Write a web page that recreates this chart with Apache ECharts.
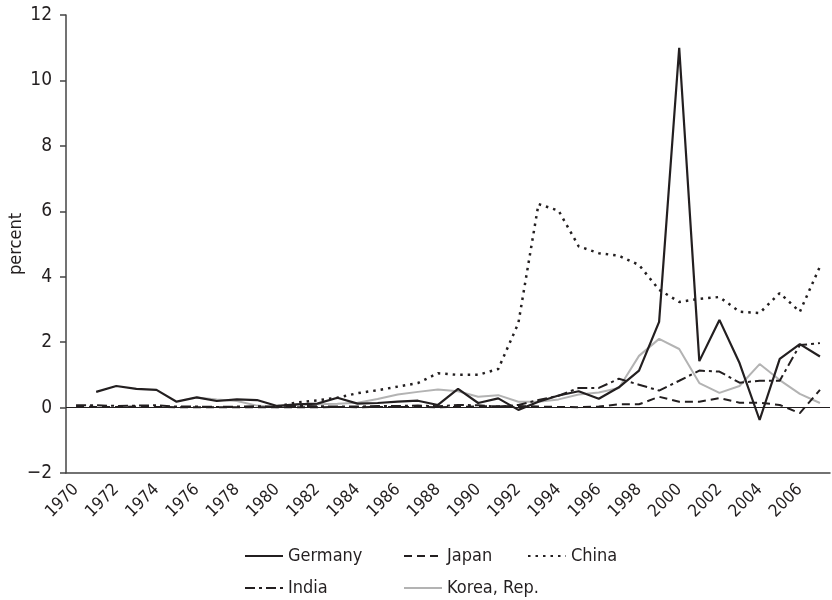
<!DOCTYPE html>
<html>
<head>
<meta charset="utf-8">
<script src="https://cdn.jsdelivr.net/npm/echarts@6/dist/echarts.min.js"></script>
<style>
  html, body { margin: 0; padding: 0; background: #fff; }
  #chart { width: 832px; height: 600px; }
</style>
</head>
<body>
<div id="chart"></div>
<script>
// years on the x axis
var years = [];
for (var y = 1970; y <= 2007; y++) years.push(String(y));

// percent values, 1970..2007 (null = no data)
var germany = [null, 0.48, 0.66, 0.57, 0.54, 0.18, 0.31, 0.20, 0.25, 0.23,
  0.05, 0.10, 0.12, 0.30, 0.12, 0.14, 0.18, 0.21, 0.08, 0.57,
  0.14, 0.28, -0.07, 0.18, 0.37, 0.50, 0.27, 0.62, 1.13, 2.62,
  11.0, 1.42, 2.68, 1.36, -0.38, 1.49, 1.94, 1.56];
var japan = [0.03, 0.02, 0.02, 0.03, 0.02, 0.01, 0.01, 0.01, 0.01, 0.01,
  0.01, 0.01, 0.01, 0.02, 0.01, 0.02, 0.02, 0.02, 0.01, 0.02,
  0.04, 0.04, 0.05, 0.03, 0.02, 0.01, 0.03, 0.10, 0.10, 0.33,
  0.18, 0.18, 0.29, 0.15, 0.15, 0.08, -0.17, 0.54];
var china = [null, null, null, null, null, null, null, null, null, null,
  0.03, 0.16, 0.22, 0.30, 0.44, 0.53, 0.64, 0.75, 1.05, 1.00,
  1.00, 1.18, 2.58, 6.22, 6.02, 4.93, 4.72, 4.64, 4.36, 3.60,
  3.23, 3.32, 3.38, 2.93, 2.89, 3.50, 2.93, 4.31];
var india = [0.07, 0.07, 0.05, 0.06, 0.07, 0.03, 0.03, 0.02, 0.03, 0.04,
  0.03, 0.05, 0.04, 0.03, 0.03, 0.05, 0.05, 0.06, 0.04, 0.08,
  0.07, 0.03, 0.08, 0.23, 0.36, 0.60, 0.60, 0.88, 0.70, 0.52,
  0.82, 1.13, 1.10, 0.76, 0.82, 0.82, 1.91, 1.97];
var korea = [null, null, null, null, null, null, 0.31, 0.25, 0.20, 0.06,
  0.01, 0.10, 0.10, 0.12, 0.15, 0.26, 0.40, 0.48, 0.55, 0.50,
  0.33, 0.38, 0.18, 0.18, 0.25, 0.40, 0.46, 0.60, 1.58, 2.10,
  1.79, 0.75, 0.45, 0.66, 1.33, 0.84, 0.42, 0.14];

var yTicks = { min: -2, max: 12, interval: 2 };

var font = "'DejaVu Sans Condensed', 'Liberation Sans Narrow', 'Roboto', sans-serif";
var ink = '#231f20';

function legendAt(name, left, top) {
  return {
    data: [name],
    left: left,
    top: top,
    itemWidth: 38,
    itemHeight: 10,
    itemStyle: { opacity: 0 },
    textStyle: { fontFamily: font, fontSize: 18, color: ink }
  };
}

var myChart = echarts.init(document.getElementById('chart'));
var option = {
  backgroundColor: '#fff',
  animation: false,
  grid: { left: 66, right: 2, top: 15, bottom: 127, outerBoundsMode: 'none', containLabel: false },
  legend: [
    legendAt('Germany', 239, 542),
    legendAt('Japan', 398, 542),
    legendAt('China', 522, 542),
    legendAt('India', 239, 574),
    legendAt('Korea, Rep.', 398, 574)
  ],
  xAxis: {
    type: 'category',
    data: years,
    boundaryGap: true,
    axisLine: { onZero: false, lineStyle: { color: '#444', width: 1.5 } },
    axisTick: { interval: 0, length: 6, lineStyle: { color: '#444', width: 1.5 } },
    axisLabel: {
      interval: 1, rotate: 45, margin: 14,
      fontFamily: font, fontSize: 17, color: ink
    },
    splitLine: { show: false }
  },
  yAxis: {
    type: 'value',
    min: yTicks.min,
    max: yTicks.max,
    interval: yTicks.interval,
    name: 'percent',
    nameLocation: 'middle',
    nameGap: 41,
    nameMoveOverlap: false,
    nameTextStyle: { fontFamily: font, fontSize: 18, color: ink },
    axisLine: { show: true, lineStyle: { color: '#444', width: 1.5 } },
    axisTick: { show: true, length: 6, lineStyle: { color: '#444', width: 1.5 } },
    axisLabel: {
      margin: 14, fontFamily: font, fontSize: 19, color: ink,
      formatter: function (v) { return v < 0 ? '\u2212' + Math.abs(v) : String(v); }
    },
    splitLine: { show: false }
  },
  series: [
    {
      name: 'Germany', type: 'line', data: germany,
      symbol: 'none', color: ink,
      lineStyle: { color: ink, width: 2.2 },
      markLine: {
        silent: true, symbol: 'none', label: { show: false },
        lineStyle: { color: ink, width: 1.2, type: 'solid' },
        data: [{ yAxis: 0 }]
      },
      z: 5
    },
    {
      name: 'Japan', type: 'line', data: japan,
      symbol: 'none', color: ink,
      lineStyle: { color: ink, width: 2, type: [8, 5] },
      z: 4
    },
    {
      name: 'China', type: 'line', data: china,
      symbol: 'none', color: ink,
      lineStyle: { color: ink, width: 2.5, type: [2.5, 5] },
      z: 3
    },
    {
      name: 'India', type: 'line', data: india,
      symbol: 'none', color: ink,
      lineStyle: { color: ink, width: 2, type: [10, 4, 3, 4] },
      z: 4
    },
    {
      name: 'Korea, Rep.', type: 'line', data: korea,
      symbol: 'none', color: '#b3b3b3',
      lineStyle: { color: '#b3b3b3', width: 2 },
      z: 2
    }
  ]
};
myChart.setOption(option);
</script>
</body>
</html>
